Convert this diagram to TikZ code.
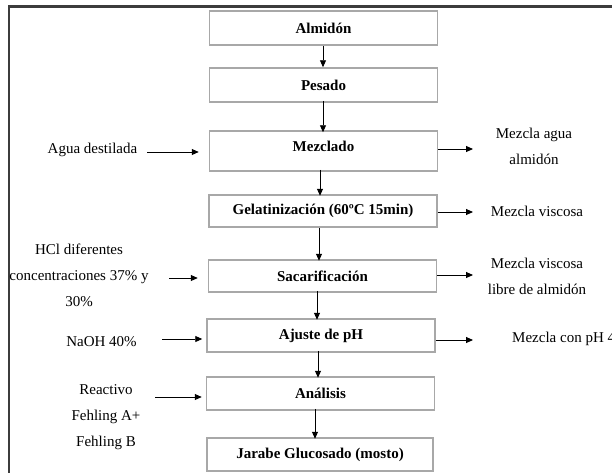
\documentclass[tikz,border=0pt]{standalone}
\usepackage{fontspec}
\setmainfont{Liberation Serif}
\newfontfamily\tnr{Liberation Serif}
\usetikzlibrary{arrows.meta,calc}
\definecolor{boxgray}{HTML}{A8A8A8}
\definecolor{framegray}{HTML}{3C3C3C}
\tikzset{
  stepbox/.style={draw=boxgray, line width=1.5pt, rectangle, inner sep=0pt,
    minimum width=228pt, minimum height=33pt, font=\tnr\fontsize{15}{18}\selectfont\bfseries},
  sidetext/.style={inner sep=0pt, align=center, font=\tnr\fontsize{15}{26}\selectfont},
  arr/.style={draw=black, line width=0.9pt, -{Triangle[length=7pt,width=6pt]}}
}
\begin{document}
\begin{tikzpicture}[x=1pt,y=-1pt]
\useasboundingbox (0,0) rectangle (612,472);
\fill[white] (0,0) rectangle (612,472);
% outer frame (cropped)
\draw[framegray, line width=2.2pt] (9,473) -- (9,6.5) -- (613,6.5);

% process boxes
\node[stepbox, minimum height=34pt] (alm) at (323.5,28) {Almidón};
\node[stepbox, minimum height=34pt] (pes) at (323.5,85) {Pesado};
\node[stepbox, minimum height=40pt, text height=10pt, text depth=10pt] (mez) at (323.5,151) {Mezclado};
\node[stepbox, minimum height=32pt] (gel) at (323,211) {Gelatinización (60ºC 15min)};
\node[stepbox, minimum height=32pt] (sac) at (322.5,276) {Sacarificación};
\node[stepbox] (aju) at (321,335.5) {Ajuste de pH};
\node[stepbox] (ana) at (320.5,393.5) {Análisis};
\node[stepbox, minimum width=226pt] (jar) at (320,454.5) {Jarabe Glucosado (mosto)};

% vertical flow
\draw[arr] ([xshift=-0.5pt]alm.south) -- ([xshift=-0.5pt]alm.south |- pes.north);
\draw[arr] ([xshift=-0.5pt,yshift=2pt]pes.south) -- ([xshift=-0.5pt,yshift=-2pt]pes.south |- mez.north);
\draw[arr] ([xshift=-3.5pt,yshift=2pt]mez.south) -- ([xshift=-3.5pt,yshift=-1.5pt]mez.south |- gel.north);
\draw[arr] ([xshift=-4pt]gel.south) -- ([xshift=-4pt,yshift=-1.5pt]gel.south |- sac.north);
\draw[arr] ([xshift=-5.5pt,yshift=2pt]sac.south) -- ([xshift=-5.5pt,yshift=-1.5pt]sac.south |- aju.north);
\draw[arr] ([xshift=-3pt,yshift=2pt]aju.south) -- ([xshift=-3pt,yshift=-1.5pt]aju.south |- ana.north);
\draw[arr] ([xshift=-5.5pt,yshift=2pt]ana.south) -- ([xshift=-5.5pt,yshift=-1.5pt]ana.south |- jar.north);

% inputs (left)
\node[sidetext] (agua) at (92.5,150) {Agua destilada};
\node[sidetext] (hcl) at (79,275.5) {HCl diferentes\\concentraciones 37\% y\\30\%};
\node[sidetext] (naoh) at (101.5,342) {NaOH 40\%};
\node[sidetext] (reac) at (106,417) {Reactivo\\Fehling A+\\Fehling B};

\coordinate (ia) at (147,152);
\coordinate (ih) at (169,278);
\coordinate (in) at (162,339);
\coordinate (ir) at (155,397);
\draw[arr] (ia) -- ([xshift=-10pt]ia -| mez.west);
\draw[arr] (ih) -- ([xshift=-10pt]ih -| sac.west);
\draw[arr] (in) -- ([xshift=-4pt]in -| aju.west);
\draw[arr] (ir) -- ([xshift=-4pt]ir -| ana.west);

% outputs (right)
\node[sidetext] (oma) at (534,146) {Mezcla agua\\almidón};
\node[sidetext] (omv) at (537,211) {Mezcla viscosa};
\node[sidetext] (oml) at (537,276.5) {Mezcla viscosa\\libre de almidón};
\node[sidetext, anchor=west] (omp) at (512,339) {Mezcla con pH 4};

\draw[arr] (mez.east |- 0,149) -- (473,149);
\draw[arr] (gel.east |- 0,212) -- (473,212);
\draw[arr] (sac.east |- 0,275) -- (473,275);
\draw[arr] (aju.east |- 0,340) -- (473,340);
\end{tikzpicture}
\end{document}
